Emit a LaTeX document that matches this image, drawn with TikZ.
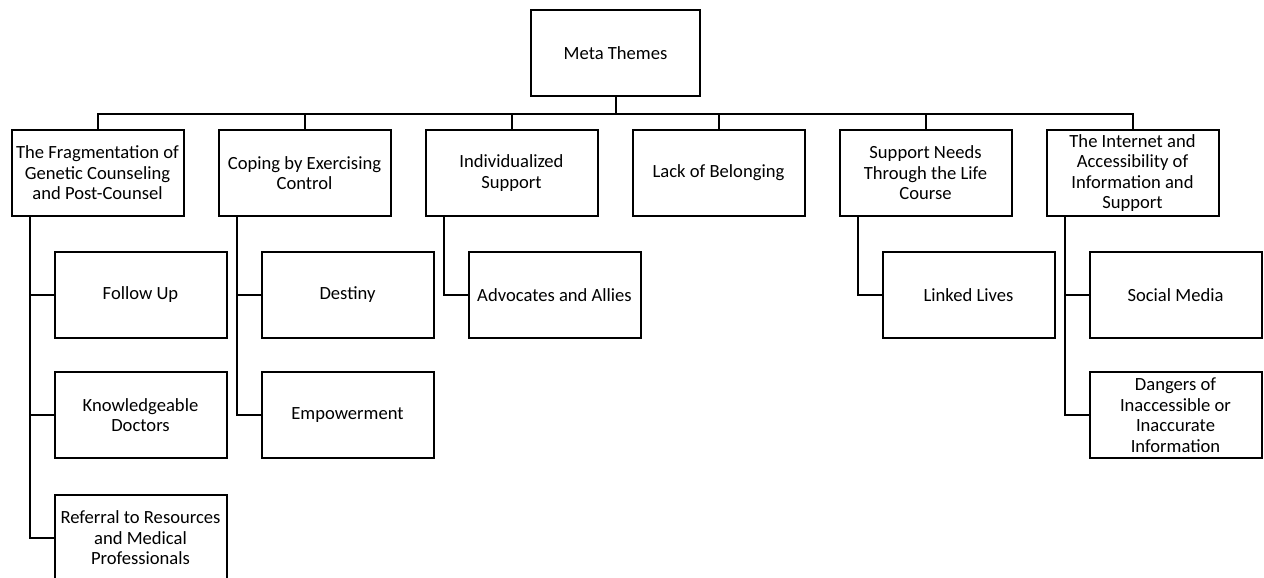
\documentclass[tikz,border=0pt]{standalone}
\usepackage{fontspec}
\setmainfont{Carlito}
\usetikzlibrary{positioning}

\tikzset{
  theme/.style={draw, line width=1pt, minimum width=86pt, minimum height=43pt,
    inner sep=1pt, align=center, font=\fontsize{9.3}{10.3}\selectfont},
  link/.style={line width=1pt},
}

\begin{document}
\begin{tikzpicture}
    \useasboundingbox (0,0) rectangle (632pt,-289pt);
    \clip (0,0) rectangle (632pt,-289pt);

    \node [theme, minimum width=84.5pt] (meta) at (307.75pt,-26.5pt) {Meta Themes};
    \node [theme, below=16pt of meta, xshift=-259pt] (frag) {The Fragmentation of\\Genetic Counseling\\and Post-Counsel};
    \node [theme, right=16.5pt of frag] (cope) {Coping by Exercising\\Control};
    \node [theme, right=16.5pt of cope] (indiv) {Individualized\\Support};
    \node [theme, right=16.5pt of indiv] (belong) {Lack of Belonging};
    \node [theme, right=16.5pt of belong] (life) {Support Needs\\Through the Life\\Course};
    \node [theme, right=16.5pt of life] (net) {The Internet and\\Accessibility of\\Information and\\Support};

    \node [theme, below=17pt of frag, xshift=21.5pt] (follow) {Follow Up};
    \node [theme, below=16pt of follow] (doctors) {Knowledgeable\\Doctors};
    \node [theme, below=17.5pt of doctors] (referral) {Referral to Resources\\and Medical\\Professionals};
    \node [theme, below=17pt of cope, xshift=21.5pt] (destiny) {Destiny};
    \node [theme, below=16pt of destiny] (power) {Empowerment};
    \node [theme, below=17pt of indiv, xshift=21.5pt] (allies) {Advocates and Allies};
    \node [theme, below=17pt of life, xshift=21.5pt] (linked) {Linked Lives};
    \node [theme, below=17pt of net, xshift=21.5pt] (social) {Social Media};
    \node [theme, below=16pt of social] (dangers) {Dangers of\\Inaccessible or\\Inaccurate\\Information};

    %\node [draw] at (bus) {};
    \draw [link] (meta.south) -- ++(0,-8.5pt) coordinate (bus);
    \foreach \t in {frag,cope,indiv,belong,life,net}
        \draw [link] (bus) -| (\t.north);
    \foreach \p/\c in {frag/follow, frag/doctors, frag/referral, cope/destiny, cope/power,
                      indiv/allies, life/linked, net/social, net/dangers}
        \draw [link] ([xshift=9.5pt]\p.south west) |- (\c.west);
\end{tikzpicture}
\end{document}
